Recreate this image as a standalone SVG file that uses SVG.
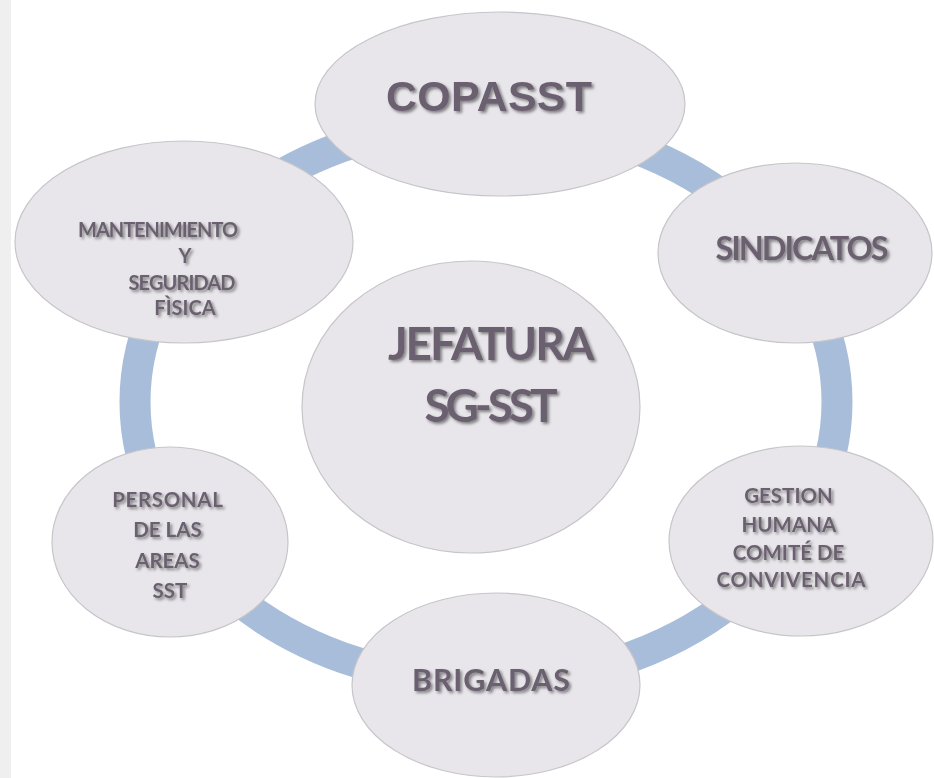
<svg xmlns="http://www.w3.org/2000/svg" width="934" height="778" viewBox="0 0 934 778">
  <defs>
    <filter id="ts" x="-10%" y="-30%" width="120%" height="160%">
      <feDropShadow dx="2" dy="2" stdDeviation="1.4" flood-color="#000" flood-opacity="0.45"/>
    </filter>
    <style>
      .node { fill: #e8e6ea; stroke: #c6c5c9; stroke-width: 1.2; }
      .lbl { font-family: Lato, "Open Sans", "Liberation Sans", sans-serif; font-weight: 700; fill: #6b6170; text-anchor: middle; filter: url(#ts); }
      .arial { font-family: "Liberation Sans", Arial, sans-serif; }
      .ring { fill: none; stroke: #a8bdda; stroke-width: 31; }
    </style>
  </defs>
  <rect x="0" y="0" width="934" height="778" fill="#ffffff"/>
  <rect x="0" y="0" width="11" height="778" fill="#efefef"/>

  <g id="connectors">
    <ellipse class="ring" cx="486" cy="402" rx="351" ry="280"/>
  </g>

  <g id="node-copasst">
    <ellipse class="node" cx="500" cy="104" rx="185" ry="92"/>
    <text class="lbl arial" x="489" y="111" font-size="43" textLength="206">COPASST</text>
  </g>

  <g id="node-mantenimiento">
    <ellipse class="node" cx="184" cy="242" rx="169" ry="101"/>
    <text class="lbl" font-size="20">
      <tspan x="160" y="237" textLength="160">MANTENIMIENTO</tspan>
      <tspan x="187" y="263">Y</tspan>
      <tspan x="184" y="290" textLength="107">SEGURIDAD</tspan>
      <tspan x="185" y="315">FÌSICA</tspan>
    </text>
  </g>

  <g id="node-sindicatos">
    <ellipse class="node" cx="795" cy="253" rx="137" ry="90"/>
    <text class="lbl" x="802" y="260" font-size="32.5" textLength="173">SINDICATOS</text>
  </g>

  <g id="node-jefatura">
    <ellipse class="node" cx="471" cy="407" rx="169" ry="146"/>
    <text class="lbl" font-size="46">
      <tspan x="495" y="360" textLength="205">JEFATURA</tspan>
      <tspan x="491" y="422" textLength="133">SG-SST</tspan>
    </text>
  </g>

  <g id="node-personal">
    <ellipse class="node" cx="170" cy="542" rx="118" ry="95"/>
    <text class="lbl" font-size="20.5">
      <tspan x="170" y="507" textLength="110">PERSONAL</tspan>
      <tspan x="170" y="537">DE LAS</tspan>
      <tspan x="170" y="568">AREAS</tspan>
      <tspan x="170" y="598">SST</tspan>
    </text>
  </g>

  <g id="node-gestion">
    <ellipse class="node" cx="801" cy="541" rx="132" ry="95"/>
    <text class="lbl" font-size="20.5">
      <tspan x="791" y="503">GESTION</tspan>
      <tspan x="791" y="532">HUMANA</tspan>
      <tspan x="791" y="560">COMITÉ DE</tspan>
      <tspan x="791" y="587" textLength="149">CONVIVENCIA</tspan>
    </text>
  </g>

  <g id="node-brigadas">
    <ellipse class="node" cx="496" cy="685" rx="144" ry="92"/>
    <text class="lbl" x="491" y="691" font-size="30.5" textLength="158">BRIGADAS</text>
  </g>
</svg>
